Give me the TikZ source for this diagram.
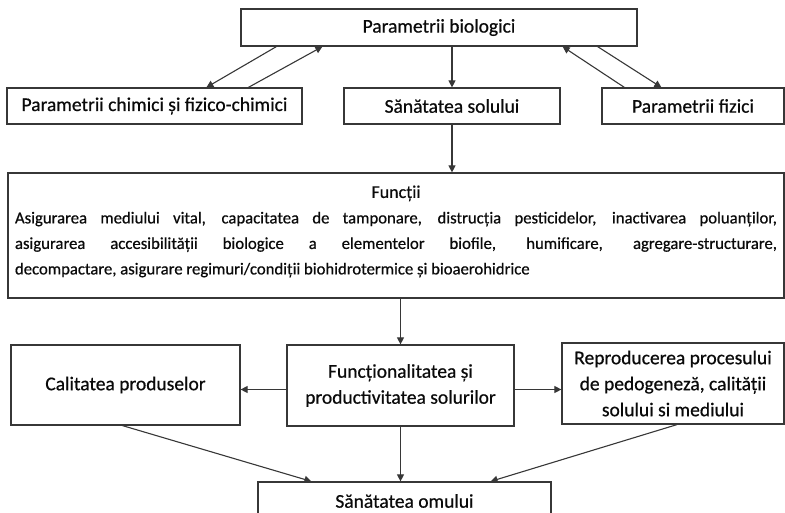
\documentclass[tikz,border=0pt]{standalone}
\usepackage{fontspec}
\setmainfont{Carlito}[FakeBold=0.6]
\usetikzlibrary{arrows.meta,calc}
\definecolor{SchemaLine}{RGB}{55,55,55}
\definecolor{SchemaText}{RGB}{10,10,10}
\hyphenpenalty=10000
\exhyphenpenalty=10000

\begin{document}
\begin{tikzpicture}[x=1pt,y=-1pt,
  box/.style={draw=SchemaLine,line width=1.2pt,fill=white,text=SchemaText,
    font=\fontsize{19.5}{26}\selectfont,align=center,inner sep=2pt},
  arr/.style={draw=SchemaLine,line width=1.1pt,-{Triangle[length=7pt,width=7pt]}}]
\useasboundingbox (0,0) rectangle (785,512);
\node[box,minimum width=396pt,minimum height=37pt] (bio) at (439,27.5) {Parametrii biologici};
\node[box,minimum width=295pt,minimum height=36pt] (chim) at (154.5,106) {Parametrii chimici și fizico-chimici};
\node[box,minimum width=216pt,minimum height=36pt] (sol) at (452,106) {Sănătatea solului};
\node[box,minimum width=182pt,minimum height=36pt] (fiz) at (693,106) {Parametrii fizici};
\node[box,minimum width=776pt,minimum height=125pt,text width=762pt,align=justify,
  font=\fontsize{16.7}{25.5}\selectfont] (fun) at (396,235.5)
  {\hfill{\fontsize{18}{25.5}\selectfont Funcții}\hfill\null\\
   Asigurarea mediului vital, capacitatea de tamponare, distrucția pesticidelor, inactivarea poluanților,\linebreak
   asigurarea accesibilității biologice a elementelor biofile, humificare, agregare-structurare,\linebreak
   decompactare, asigurare regimuri/condiții biohidrotermice și bioaerohidrice\par\vspace*{8pt}};
\node[box,minimum width=229pt,minimum height=80pt] (cal) at (125.5,385) {Calitatea produselor};
\node[box,minimum width=227pt,minimum height=81pt] (prod) at (400.5,385.5) {Funcționalitatea și\\productivitatea solurilor};
\node[box,minimum width=222pt,minimum height=81pt] (rep) at (673,383.5) {Reproducerea procesului\\de pedogeneză, calității\\solului si mediului};
\node[box,minimum width=293pt,minimum height=38pt] (om) at (404.5,501) {Sănătatea omului};

\draw[arr] ([xshift=36]bio.south west) -- ([xshift=200]chim.north west);
\draw[arr] ([xshift=242]chim.north west) -- ([xshift=82]bio.south west);
\draw[arr] ([xshift=23]fiz.north west) -- ([xshift=-75]bio.south east);
\draw[arr] ([xshift=-40]bio.south east) -- ([xshift=60]fiz.north west);
\draw[arr] (bio.south -| sol.north) -- (sol.north);
\draw[arr] (sol.south) -- (sol.south |- fun.north);
\draw[arr] (prod.north |- fun.south) -- (prod.north);
\draw[arr] ([yshift=-4]prod.west) -- ([yshift=-4]prod.west -| cal.east);
\draw[arr] ([yshift=-4]prod.east) -- ([yshift=-4]prod.east -| rep.west);
\draw[arr] ([xshift=-3]cal.south) -- ([xshift=54]om.north west);
\draw[arr] (prod.south) -- (prod.south |- om.north);
\draw[arr] ([xshift=4]rep.south) -- ([xshift=-61]om.north east);
\end{tikzpicture}
\end{document}
